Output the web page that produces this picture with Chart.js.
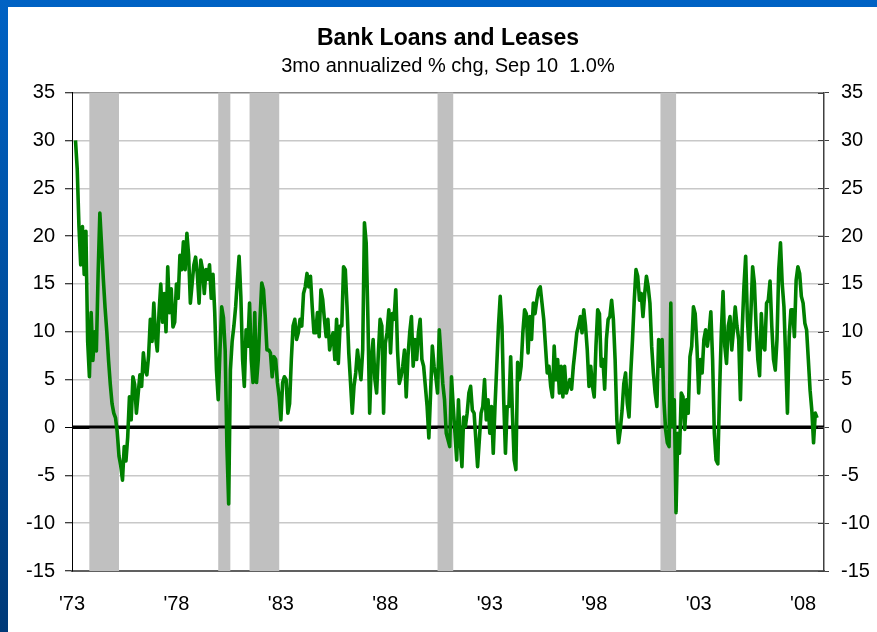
<!DOCTYPE html>
<html>
<head>
<meta charset="utf-8">
<title>Bank Loans and Leases</title>
<script src="https://cdn.jsdelivr.net/npm/chart.js@4.4.0/dist/chart.umd.min.js"></script>
<style>
  html, body { margin: 0; padding: 0; }
  body {
    width: 877px; height: 632px; overflow: hidden; position: relative;
    background: linear-gradient(#0062c4, #003a78);
  }
  .panel { position: absolute; left: 8px; top: 7px; width: 869px; height: 625px; background: #fff; }
  canvas { display: block; }
</style>
</head>
<body>
<div class="panel"><canvas id="chart-loans" width="869" height="625"></canvas></div>
<script>
// Bank loans & leases, 3mo annualized % change — monthly readings from Mar 1973
const START_YEAR  = 1973;
const START_MONTH = 3;

const LOAN_GROWTH = [
  /* 1973 */ 30, 27, 21, 17, 21, 16, 20.5, 9, 5.3, 12,
  /* 1974 */ 7, 10, 8, 16, 22.4, 19, 15.5, 12.5, 10, 7, 4.5, 2.5,
  /* 1975 */ 1.5, 1, -0.5, -3, -4, -5.5, -2, -3.5, -1, 3.2, 0.8, 5.3,
  /* 1976 */ 4.5, 1.5, 3.5, 5.5, 4.3, 7.8, 6, 5.5, 7.5, 11.3, 9, 13,
  /* 1977 */ 9.5, 8, 12, 15, 11, 14, 10, 16.8, 12, 14.5, 10.5, 11,
  /* 1978 */ 15, 13.5, 18, 16.5, 19.4, 16.5, 20.3, 18, 13, 15, 17, 17.8,
  /* 1979 */ 16, 13, 17.5, 16.5, 14, 16.5, 15.5, 17, 13.5, 16, 12, 6,
  /* 1980 */ 2.9, 8, 12.6, 11.5, 8, -2, -8, 6, 9, 10.6, 12.6, 15.4,
  /* 1981 */ 17.9, 13.7, 7.1, 4.3, 10.2, 8.5, 13, 7.1, 4.7, 12, 4.7, 7.1,
  /* 1982 */ 11.3, 15.1, 14.4, 11.6, 8.1, 8.1, 7.8, 5.3, 7.4, 7.1, 4.7, 3.2,
  /* 1983 */ 0.8, 4.7, 5.3, 5, 1.5, 2.5, 7.1, 10.6, 11.3, 9.2, 9.9, 11.3,
  /* 1984 */ 10.6, 14, 14.7, 16.1, 14.7, 15.8, 12.6, 9.9, 9.9, 12, 9.5, 14.4,
  /* 1985 */ 13.4, 11.3, 9.5, 11.3, 8.1, 9.2, 9.9, 7.1, 11.3, 6.7, 10.6, 10.6,
  /* 1986 */ 16.8, 16.5, 12.6, 7.8, 4.7, 1.5, 4.3, 5.7, 8.1, 6.4, 5, 8.1,
  /* 1987 */ 21.4, 19.3, 11.3, 1.5, 7.1, 9.2, 5, 3.6, 7.8, 11.3, 10.6, 1.5,
  /* 1988 */ 8.8, 9.9, 12.3, 7.8, 11.9, 11.3, 14.4, 8.1, 4.6, 5.3, 6.4, 8.1,
  /* 1989 */ 3.2, 7.4, 9.9, 11.6, 6.4, 9.2, 7.1, 9.9, 11.3, 7.1, 6.4, 4.3,
  /* 1990 */ 2.2, -1.1, 3.6, 8.5, 6.4, 5.3, 3.6, 10.2, 7.4, 4.6, 2.9, -0.6,
  /* 1991 */ -1.3, -2, 5.3, 2.2, -0.6, -3.4, 2.9, -1.3, -4.1, 1.1, 0.1, 1.5,
  /* 1992 */ 3.6, 4.3, 1.8, 1.5, -1.3, -4.1, -1.3, 1.5, 2.2, 5, 0.8, 2.9,
  /* 1993 */ -0.6, 2.2, -2.7, 2.2, 6.4, 10.6, 13.7, 10.6, 2.9, -2.7, 2.2, 2.2,
  /* 1994 */ 7.4, 1.5, -3.4, -4.4, 6.8, 5, 6.4, 9.9, 12.3, 11.9, 7.8, 11.6,
  /* 1995 */ 9.2, 13, 11.9, 13.3, 14.4, 14.7, 13, 11.3, 8.5, 5.7, 6.4, 4.3,
  /* 1996 */ 3.2, 8.5, 5, 7.1, 3.6, 6.4, 3.2, 6.4, 3.6, 4.3, 5, 4,
  /* 1997 */ 6.4, 8.1, 9.9, 10.6, 11.6, 9.9, 12.3, 10.6, 8.1, 4.3, 6.4, 4.3,
  /* 1998 */ 3.2, 8.5, 12.3, 11.9, 6.4, 7.1, 4, 9.2, 11.3, 11.6, 13.3, 11.3,
  /* 1999 */ 7.1, 0.8, -1.6, -0.2, 1.8, 4.6, 5.7, 2.5, 1.1, 5.7, 9.2, 13.3,
  /* 2000 */ 16.5, 15.8, 13.3, 14, 11.6, 14, 15.8, 14.7, 13, 8.5, 5.7, 3.6,
  /* 2001 */ 2.2, 9.2, 6.4, 9.2, 2.9, -0.2, -1.6, -2, 13, 0.1, 2.9, -8.9,
  /* 2002 */ -0.6, -2.7, 3.6, 3.2, -0.2, 2.9, 1.5, 7.4, 8.5, 12.6, 11.9, 8.5,
  /* 2003 */ 3.6, 7.1, 5.7, 9.2, 10.2, 8.5, 9.9, 12.1, 7.1, -0.6, -3.4, -3.8,
  /* 2004 */ 3.6, 9.9, 14.2, 8.5, 6.7, 10.6, 11.6, 8.1, 10.2, 12.6, 10.6, 9.2,
  /* 2005 */ 2.9, 10.2, 14.7, 17.9, 11.3, 8.1, 11.9, 16.8, 15.1, 10.6, 7.1, 5.4,
  /* 2006 */ 11.9, 8.5, 8.1, 13, 13.3, 15.3, 10.6, 7.1, 6, 9.2, 16.5, 19.3,
  /* 2007 */ 15, 12.6, 7.1, 1.5, 9.5, 12.3, 12.3, 9.5, 15.4, 16.8, 16.1, 13.7,
  /* 2008 */ 13, 10.9, 10.2, 7.1, 3.9, 1.8, -1.6, 1.5, 1.0,
];

// NBER recessions, decimal years
const REC_START = [1973.83, 1980.0, 1981.5, 1990.5, 2001.17];
const REC_END   = [1975.25, 1980.58, 1982.92, 1991.25, 2001.92];

const Y_TICKS  = [-15, -10, -5, 0, 5, 10, 15, 20, 25, 30, 35];
const X_TICKS  = [1973, 1978, 1983, 1988, 1993, 1998, 2003, 2008];
const X_LABELS = ["'73", "'78", "'83", "'88", "'93", "'98", "'03", "'08"];

const FONT = "'Liberation Sans', Arial, Helvetica, sans-serif";

const points = LOAN_GROWTH.map((v, i) => ({ x: START_YEAR + (START_MONTH - 1 + i) / 12, y: v }));

// shaded recession bars + zero line, drawn under the series
const recessionShading = {
  id: 'recessionShading',
  beforeDatasetsDraw(chart) {
    const { ctx, chartArea: a, scales: { x, y } } = chart;
    ctx.save();
    ctx.fillStyle = '#c0c0c0';
    REC_START.forEach((s, i) => {
      const x0 = x.getPixelForValue(s);
      const x1 = x.getPixelForValue(REC_END[i]);
      ctx.fillRect(x0, a.top, x1 - x0, a.bottom - a.top);
    });
    const y0 = Math.round(y.getPixelForValue(0));
    ctx.strokeStyle = '#000';
    ctx.lineWidth = 3;
    ctx.beginPath();
    ctx.moveTo(a.left, y0);
    ctx.lineTo(a.right, y0);
    ctx.stroke();
    ctx.restore();
  },
  afterDraw(chart) {
    // right axis ticks also poke into the plot
    const { ctx, scales: { y2 } } = chart;
    ctx.save();
    ctx.strokeStyle = '#404040';
    ctx.lineWidth = 1;
    y2.ticks.forEach(t => {
      const py = Math.round(y2.getPixelForValue(t.value)) + 0.5;
      ctx.beginPath();
      ctx.moveTo(y2.left - 6, py);
      ctx.lineTo(y2.left, py);
      ctx.stroke();
    });
    ctx.restore();
  },
};

const yTicks = s => { s.ticks = Y_TICKS.map(v => ({ value: v })); };

new Chart(document.getElementById('chart-loans'), {
  type: 'line',
  data: {
    datasets: [{
      data: points,
      borderColor: '#008000',
      borderWidth: 3.6,
      borderJoinStyle: 'round',
      pointRadius: 0,
      tension: 0,
      fill: false,
    }],
  },
  options: {
    responsive: false,
    animation: false,
    layout: { padding: 0 },
    plugins: {
      legend: { display: false },
      tooltip: { enabled: false },
      title: {
        display: true, fullSize: false,
        text: 'Bank Loans and Leases',
        color: '#000',
        font: { family: FONT, size: 23, weight: 'bold' },
        padding: { top: 18, bottom: 2 },
      },
      subtitle: {
        display: true, fullSize: false,
        text: '3mo annualized % chg, Sep 10  1.0%',
        color: '#000',
        font: { family: FONT, size: 20 },
        padding: { top: 0, bottom: 14 },
      },
    },
    scales: {
      x: {
        type: 'linear', min: 1973, max: 2009,
        afterBuildTicks: s => { s.ticks = X_TICKS.map(v => ({ value: v })); },
        afterFit: s => { s.height = 61; },
        grid: { display: false, drawTicks: false },
        border: { color: '#606060', width: 2 },
        ticks: {
          callback: v => X_LABELS[X_TICKS.indexOf(v)],
          color: '#000', font: { family: FONT, size: 20 },
          padding: 21, maxRotation: 0, autoSkip: false,
        },
      },
      y: {
        position: 'left', min: -15, max: 35,
        afterBuildTicks: yTicks,
        afterFit: s => { s.width = 64; },
        grid: {
          color: c => c.tick.value === 35 ? '#888888' : c.tick.value === 0 ? '#000' : '#c8c8c8',
          lineWidth: c => c.tick.value === 0 ? 3 : 1.5,
          tickLength: 7, tickColor: '#000', tickWidth: 1,
        },
        border: { color: '#000', width: 1 },
        ticks: { color: '#000', font: { family: FONT, size: 20 }, padding: 10 },
      },
      y2: {
        position: 'right', min: -15, max: 35,
        afterBuildTicks: yTicks,
        afterFit: s => { s.width = 53; },
        grid: { drawOnChartArea: false, tickLength: 5, tickColor: '#404040', tickWidth: 1 },
        border: { color: '#404040', width: 1.5 },
        ticks: { color: '#000', font: { family: FONT, size: 20 }, padding: 12 },
      },
    },
  },
  plugins: [recessionShading],
});
</script>
</body>
</html>
